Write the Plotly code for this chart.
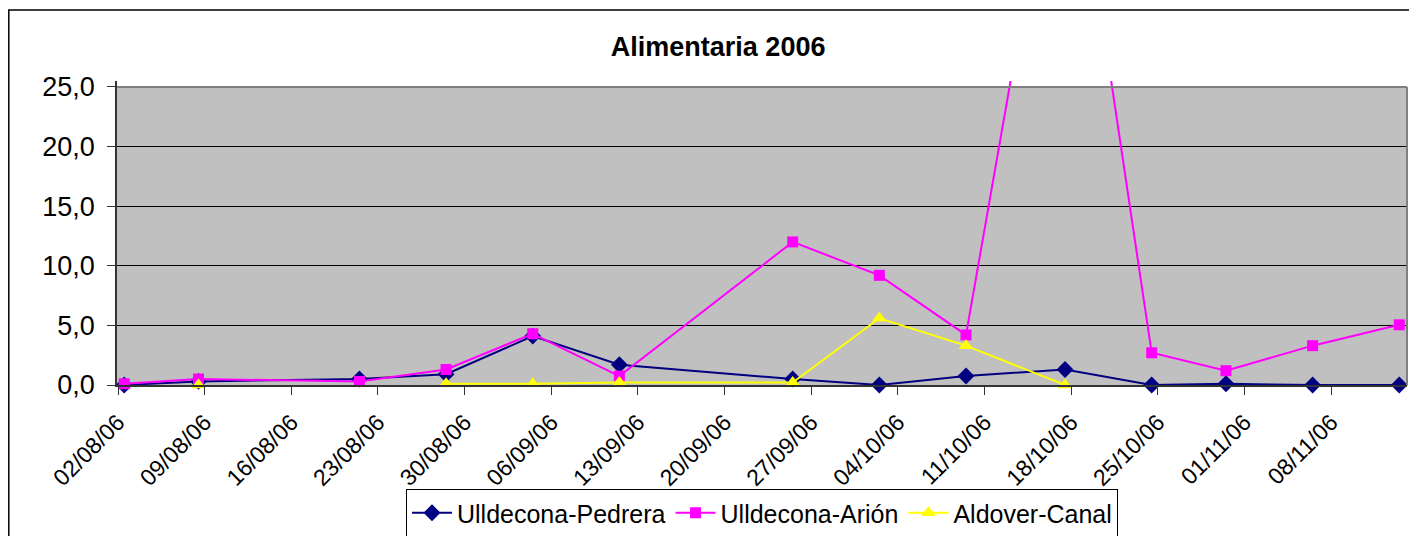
import pandas as pd
import plotly.graph_objects as go

# ---- data ----
dates = ["2006-08-02", "2006-08-08", "2006-08-21", "2006-08-28", "2006-09-04",
         "2006-09-11", "2006-09-25", "2006-10-02", "2006-10-09", "2006-10-17",
         "2006-10-24", "2006-10-30", "2006-11-06", "2006-11-13"]
pedrera = [0.0, 0.3, 0.5, 0.9, 4.1, 1.7, 0.5, 0.0, 0.75, 1.3, 0.0, 0.1, 0.0, 0.0]
arion = [0.1, 0.5, 0.3, 1.3, 4.3, 0.75, 12.0, 9.2, 4.2, 51.5, 2.7, 1.2, 3.3, 5.05]
aldover = [None, 0.0, None, 0.1, 0.1, 0.2, 0.2, 5.6, 3.3, 0.0, None, None, None, None]
series_names = ["Ulldecona-Pedrera", "Ulldecona-Arión", "Aldover-Canal"]
title_text = "Alimentaria 2006"

# Excel date axis places each point in the middle of its day
x = pd.to_datetime(dates) + pd.Timedelta(hours=12)

FONT = "Liberation Sans, Arial, sans-serif"

# page body has an 8px margin; figure is sized to fill the rest of the window
W, H = 1409, 528
ML, MR, MT, MB = 109, 10, 73, 151
PW = W - ML - MR
PH = H - MT - MB

fig = go.Figure()
styles = [
    ("#000080", "diamond", 13),
    ("#FF00FF", "square", 11),
    ("#FFFF00", "triangle-up", 13),
]
for name, vals, (col, sym, sz) in zip(series_names, [pedrera, arion, aldover], styles):
    fig.add_trace(go.Scatter(
        x=x, y=vals, name=name, mode="lines+markers",
        line=dict(color=col, width=2),
        marker=dict(symbol=sym, size=sz, color=col, line=dict(width=0)),
        connectgaps=False, cliponaxis=False,
    ))

# plot-area background (0..25), frame lines
fig.add_shape(type="rect", xref="paper", yref="y", x0=0, x1=1, y0=0, y1=25,
              fillcolor="#C0C0C0", line=dict(width=0), layer="below")
fig.add_shape(type="line", xref="paper", yref="y", x0=0, x1=1, y0=25, y1=25,
              line=dict(color="#808080", width=2), layer="above")
fig.add_shape(type="line", xref="paper", yref="y", x0=1, x1=1, y0=0, y1=25,
              line=dict(color="#808080", width=2), layer="above")
# outer chart border (left and top edges visible)
fig.add_shape(type="rect", xref="paper", yref="paper",
              x0=(0.8 - ML) / PW, x1=(W + 20 - ML) / PW,
              y0=-(H + 20 - MT - PH) / PH, y1=(H - MB - 2) / PH,
              line=dict(color="black", width=1.5),
              fillcolor="rgba(0,0,0,0)", layer="above")

fig.update_layout(
    width=W, height=H,
    margin=dict(l=ML, r=MR, t=MT, b=MB, autoexpand=False),
    paper_bgcolor="white", plot_bgcolor="white",
    separators=", ",
    font=dict(family=FONT, color="black", size=22),
    title=dict(text="<b>" + title_text + "</b>", xref="paper", x=0.466, xanchor="center",
               yref="container", y=1 - 39 / H, yanchor="middle",
               font=dict(family=FONT, size=27, color="black")),
    showlegend=True,
    legend=dict(orientation="h", xanchor="center", x=0.5, yanchor="top",
                y=-(481 - (MT + PH)) / PH,
                bgcolor="white", bordercolor="black", borderwidth=1,
                font=dict(family=FONT, size=25, color="black"),
                itemwidth=40, tracegroupgap=0),
)
fig.update_xaxes(
    type="date", range=["2006-08-01 22:00", "2006-11-14 03:00"],
    tick0="2006-08-02", dtick=7 * 86400000, tickformat="%d/%m/%y",
    tickangle=-45, ticks="outside", ticklen=8, tickcolor="#333333",
    showgrid=False, showline=True, linecolor="#333333", linewidth=1.5,
    zeroline=False, tickfont=dict(family=FONT, size=23, color="black"),
    ticklabelstandoff=5, automargin=False,
)
fig.update_yaxes(
    range=[0, 25.5], tick0=0, dtick=5, tickformat=".1f",
    ticks="outside", ticklen=8, tickcolor="#333333",
    showgrid=True, gridcolor="#000000", gridwidth=1,
    showline=True, linecolor="#333333", linewidth=1.5, zeroline=False,
    tickfont=dict(family=FONT, size=27, color="black"), ticklabelstandoff=7,
    automargin=False,
)

fig.write_html("out.html")
